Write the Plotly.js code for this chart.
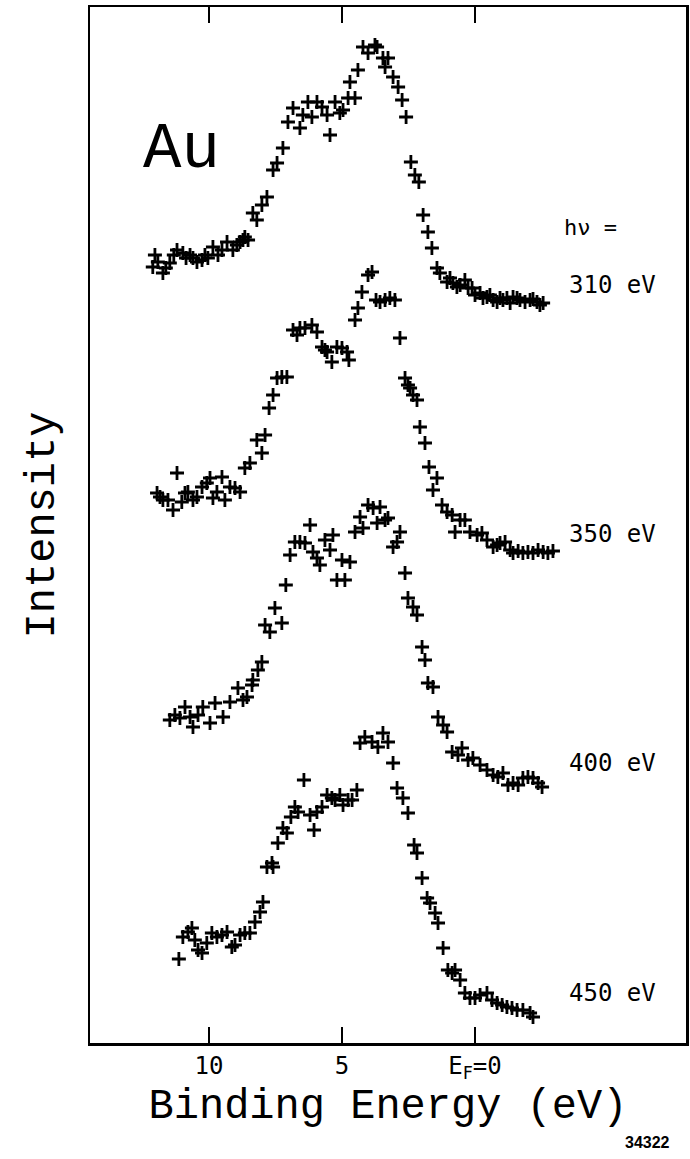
<!DOCTYPE html>
<html>
<head>
<meta charset="utf-8">
<script src="https://cdn.plot.ly/plotly-3.0.1.min.js"></script>
<style>
  html, body { margin: 0; padding: 0; background: #ffffff; }
  #chart { width: 690px; height: 1159px; }
</style>
</head>
<body>
<div id="chart"></div>
<script>
// Binding energy (eV) and intensity (arb. units, vertically offset spectra)
const be310 = [12.11,12.03,11.92,11.73,11.62,11.47,11.32,11.20,10.98,10.86,10.71,10.60,10.45,10.26,10.15,10.04,9.85,9.66,9.51,9.32,9.10,8.95,8.83,8.72,8.65,8.53,8.35,8.20,8.01,7.82,7.59,7.44,7.22,7.03,6.84,6.58,6.47,6.28,6.13,5.94,5.75,5.56,5.45,5.26,5.08,4.96,4.77,4.70,4.51,4.40,4.21,4.02,3.76,3.68,3.46,3.38,3.27,3.08,2.89,2.74,2.59,2.41,2.26,2.11,1.95,1.77,1.62,1.43,1.32,1.05,0.94,0.83,0.68,0.56,0.38,0.26,0.11,0.00,-0.19,-0.30,-0.45,-0.56,-0.68,-0.83,-0.94,-1.05,-1.20,-1.32,-1.43,-1.58,-1.69,-1.88,-2.07,-2.18,-2.33,-2.44,-2.56];
const int310 = [776,788,781,770,775,780,788,793,790,785,788,785,781,783,788,785,796,788,793,801,793,798,801,803,806,803,830,823,838,846,873,880,895,921,935,915,928,941,926,941,936,928,908,941,930,933,945,961,945,973,996,990,998,996,985,976,985,966,956,943,926,881,868,861,828,811,795,775,770,761,765,760,756,758,763,755,755,748,750,745,746,748,743,741,745,743,745,740,746,745,743,741,743,744,741,738,740];

const be350 = [11.95,11.84,11.73,11.54,11.35,11.20,11.02,10.90,10.79,10.60,10.45,10.26,10.08,9.96,9.85,9.70,9.51,9.40,9.21,9.02,8.83,8.65,8.46,8.20,8.01,7.89,7.74,7.59,7.44,7.26,7.07,6.84,6.69,6.58,6.39,6.13,5.94,5.75,5.64,5.56,5.38,5.19,5.00,4.81,4.74,4.51,4.40,4.25,4.02,3.87,3.72,3.57,3.38,3.20,3.01,2.82,2.63,2.52,2.44,2.33,2.18,2.07,1.88,1.73,1.58,1.43,1.24,1.05,0.86,0.75,0.56,0.38,0.19,-0.08,-0.26,-0.45,-0.68,-0.83,-0.94,-1.13,-1.32,-1.43,-1.62,-1.80,-1.99,-2.18,-2.37,-2.56,-2.74,-2.93];
const int350 = [550,546,543,543,533,570,541,550,551,543,546,556,560,565,545,551,566,543,556,555,551,575,580,603,590,608,635,648,665,666,666,713,708,715,715,718,711,696,693,691,681,696,695,691,683,723,735,751,768,771,743,741,743,745,743,705,665,658,655,648,643,616,600,576,553,565,538,531,528,511,523,523,511,508,510,503,496,498,500,501,493,490,492,490,491,490,493,491,490,492];

const be400 = [11.47,11.28,11.09,10.90,10.71,10.60,10.41,10.23,9.96,9.77,9.47,9.21,8.91,8.72,8.57,8.38,8.35,8.16,8.01,7.89,7.71,7.52,7.26,7.11,6.95,6.77,6.58,6.39,6.20,6.09,5.94,5.83,5.64,5.45,5.34,5.19,5.00,4.89,4.70,4.51,4.32,4.21,4.02,3.83,3.68,3.57,3.38,3.27,3.08,2.93,2.82,2.63,2.52,2.33,2.18,1.99,1.88,1.77,1.58,1.39,1.20,1.05,0.86,0.64,0.49,0.26,0.08,-0.19,-0.45,-0.68,-0.86,-1.05,-1.24,-1.43,-1.62,-1.80,-1.99,-2.18,-2.37,-2.52];
const int400 = [323,328,325,336,326,316,328,336,320,340,326,341,355,343,346,358,363,373,381,418,411,435,420,458,488,501,501,500,518,491,485,478,503,493,508,463,483,463,481,511,526,515,538,535,520,536,523,525,496,501,511,470,445,436,428,396,383,360,356,326,318,311,291,288,295,283,285,278,273,268,266,270,258,260,258,265,266,265,260,256];

const be450 = [11.13,10.98,10.79,10.64,10.53,10.41,10.26,10.08,9.89,9.70,9.51,9.32,9.14,9.02,8.83,8.65,8.46,8.27,8.08,7.97,7.82,7.63,7.59,7.41,7.22,7.07,6.92,6.77,6.65,6.43,6.20,6.05,5.94,5.75,5.56,5.38,5.26,5.08,4.96,4.77,4.62,4.44,4.32,4.14,3.87,3.65,3.46,3.27,3.08,2.93,2.71,2.52,2.29,2.18,1.99,1.80,1.69,1.50,1.39,1.20,1.02,0.86,0.75,0.56,0.38,0.19,0.00,-0.19,-0.45,-0.64,-0.83,-1.02,-1.20,-1.39,-1.58,-1.80,-2.07,-2.18];
const int450 = [84,106,111,115,103,93,90,100,110,106,108,111,96,98,108,110,110,121,131,141,176,180,176,200,215,210,226,236,231,263,228,213,231,236,248,245,243,248,238,243,243,253,300,306,301,296,310,301,280,255,245,230,198,190,165,145,140,130,120,95,73,70,73,63,50,45,45,48,50,43,40,38,36,35,33,33,30,26];

const photonEnergies = ["310 eV", "350 eV", "400 eV", "450 eV"];
const tickValues = [10, 5, 0];
const tickLabels = ["10", "5", "E<sub>F</sub>=0"];

const FONT = "DejaVu Sans Mono, monospace";
const THIN = "Liberation Mono, DejaVu Sans Mono, monospace";
const marker = { symbol: "cross-thin", size: 10, color: "#000", line: { width: 2.8, color: "#000" } };

const series = [[be310, int310], [be350, int350], [be400, int400], [be450, int450]];
const traces = series.map((s, i) => ({
  x: s[0], y: s[1], type: "scatter", mode: "markers",
  name: photonEnergies[i], marker: marker, hoverinfo: "skip"
}));

const labelY = [0.7317, 0.491, 0.270, 0.048];
const annotations = photonEnergies.map((t, i) => ({
  text: t, xref: "paper", yref: "paper", x: 0.800, y: labelY[i],
  xanchor: "left", yanchor: "middle", showarrow: false,
  font: { family: FONT, size: 24, color: "#000" }
}));
annotations.push({
  text: "hν =", xref: "paper", yref: "paper", x: 0.792, y: 0.787,
  xanchor: "left", yanchor: "middle", showarrow: false,
  font: { family: FONT, size: 22, color: "#000" }
});
annotations.push({
  text: "Au", xref: "paper", yref: "paper", x: 0.085, y: 0.862,
  xanchor: "left", yanchor: "middle", showarrow: false,
  font: { family: THIN, size: 64, color: "#000" }
});
annotations.push({
  text: "<b>34322</b>", xref: "paper", yref: "paper", x: 0.936, y: -0.0956,
  xanchor: "center", yanchor: "middle", showarrow: false,
  font: { family: "Liberation Sans, Arial, sans-serif", size: 16, color: "#000" }
});

const layout = {
  width: 690, height: 1159,
  margin: { l: 90, r: 4, t: 7, b: 116 },
  paper_bgcolor: "#fff", plot_bgcolor: "#fff",
  showlegend: false,
  xaxis: {
    range: [14.47, -7.93], tickvals: tickValues, ticktext: tickLabels,
    ticks: "inside", ticklen: 16, tickwidth: 2, tickcolor: "#000",
    showline: true, linecolor: "#000", linewidth: 2.5, mirror: "ticks",
    showgrid: false, zeroline: false,
    tickfont: { family: FONT, size: 24, color: "#000" },
    title: { text: "Binding Energy (eV)", font: { family: THIN, size: 42, color: "#000" }, standoff: 0 }
  },
  yaxis: {
    range: [0, 1036], showticklabels: false, ticks: "",
    showline: true, linecolor: "#000", linewidth: 2.5, mirror: true,
    showgrid: false, zeroline: false,
    title: { text: "Intensity", font: { family: THIN, size: 42, color: "#000" }, standoff: 20 }
  },
  annotations: annotations
};

Plotly.newPlot("chart", traces, layout, { staticPlot: true, displayModeBar: false });
</script>
</body>
</html>
